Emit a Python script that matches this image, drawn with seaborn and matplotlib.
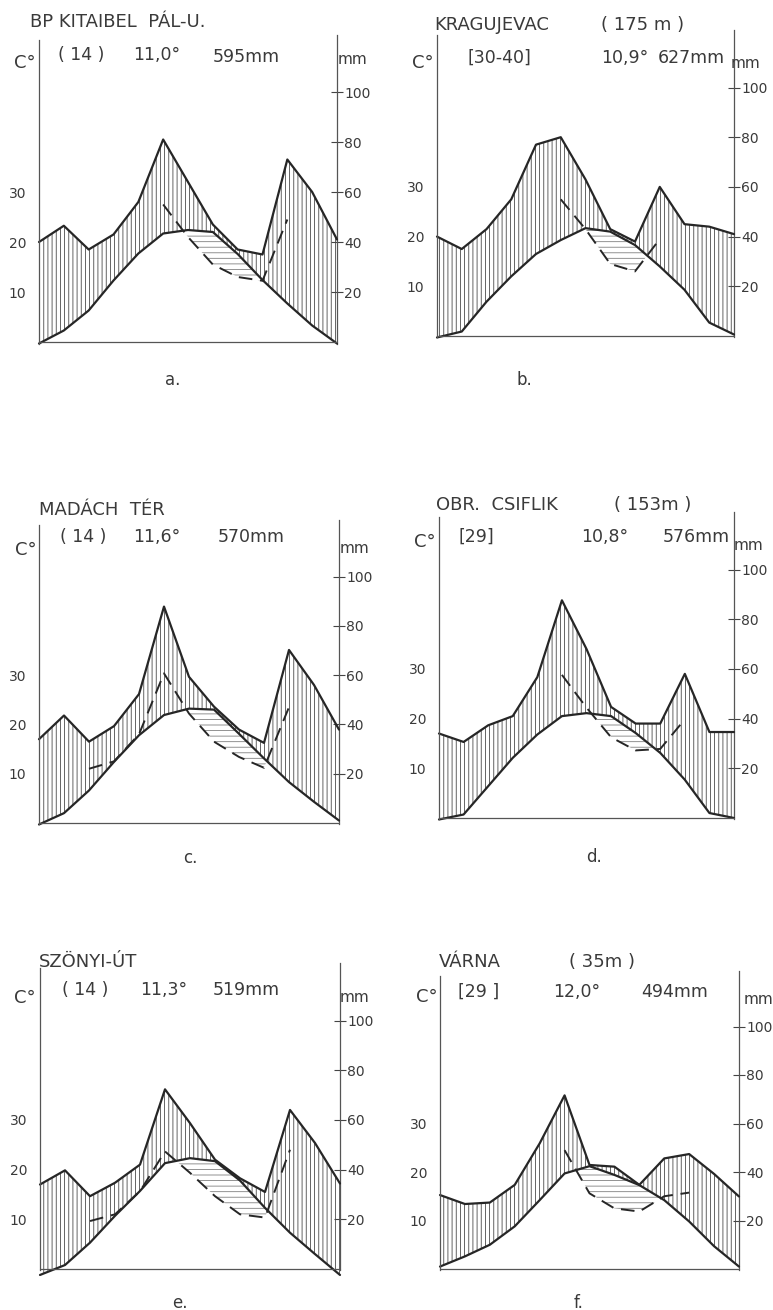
import numpy as np
import matplotlib
matplotlib.use("Agg")
import matplotlib.pyplot as plt
import seaborn as sns

# climate diagrams (Walter-Lieth style): 13 nodes, 10 C = 20 mm
MONTHS = list(range(13))

NAMES = ["BP KITAIBEL  PÁL-U.", "KRAGUJEVAC", "MADÁCH  TÉR", "OBR.  CSIFLIK", "SZÖNYI-ÚT", "VÁRNA"]
ELEV = ["", "( 175 m )", "", "( 153m )", "", "( 35m )"]
PERIOD = ["( 14 )", "[30-40]", "( 14 )", "[29]", "( 14 )", "[29 ]"]
MEAN_T = ["11,0°", "10,9°", "11,6°", "10,8°", "11,3°", "12,0°"]
ANNUAL = ["595mm", "627mm", "570mm", "576mm", "519mm", "494mm"]
LETTERS = ["a.", "b.", "c.", "d.", "e.", "f."]

# precipitation (mm)
PREC_A = [40, 46.5, 37, 43, 56, 81, 64, 47, 37, 35, 73, 60, 41]
PREC_B = [40, 35, 43, 55, 77, 80, 63, 43, 38, 60, 45, 44, 41]
PREC_C = [34, 43.6, 33, 39.3, 52.3, 87.8, 59.3, 47.2, 37.9, 32.5, 70.2, 56, 37.9]
PREC_D = [34, 30.6, 37.3, 41, 56.7, 87.6, 68, 44.7, 38, 38, 58, 34.6, 34.6]
PREC_E = [34, 39.7, 29.3, 34.7, 42, 72.3, 58.7, 44, 36.5, 31, 64, 50.7, 34.4]
PREC_F = [30.5, 26.8, 27.4, 34.7, 51.8, 71.6, 42.9, 42.2, 34.7, 45.6, 47.4, 39.2, 29.9]

# temperature (C)
TEMP_A = [-0.3, 2.3, 6.3, 12.3, 17.7, 21.7, 22.4, 22.0, 17.6, 12.4, 7.7, 3.3, -0.3]
TEMP_B = [-0.3, 0.9, 6.9, 12.0, 16.5, 19.3, 21.7, 21.0, 18.3, 14.0, 9.3, 2.7, 0.3]
TEMP_C = [-0.3, 2.0, 6.6, 12.4, 17.8, 21.9, 23.2, 23.0, 18.1, 13.1, 8.3, 4.3, 0.5]
TEMP_D = [-0.3, 0.7, 6.4, 12.1, 16.8, 20.5, 21.1, 20.5, 17.1, 13.1, 7.7, 1.0, 0.0]
TEMP_E = [-1.2, 0.8, 5.3, 10.7, 15.7, 21.3, 22.3, 21.7, 17.8, 12.3, 7.3, 3.0, -1.2]
TEMP_F = [0.5, 2.6, 5.0, 8.8, 14.2, 19.7, 21.2, 19.4, 17.3, 14.2, 9.8, 4.7, 0.5]

# dashed second precipitation curve (mm), with first month index
DASH_START = [5, 5, 2, 5, 2, 5]
DASH_A = [55, 42, 31, 26, 24.5, 49]
DASH_B = [55, 43, 29, 26, 39]
DASH_C = [22, 25, 36, 60.7, 44.4, 33, 26.8, 22.4, 47]
DASH_D = [57.6, 44.4, 32.5, 27.2, 27.8, 39.7]
DASH_E = [19.3, 22, 31.3, 47.3, 38.7, 29.3, 22, 20.7, 48]
DASH_F = [49, 31.2, 25, 23.7, 30, 31.5]

PRECS = [PREC_A, PREC_B, PREC_C, PREC_D, PREC_E, PREC_F]
TEMPS = [TEMP_A, TEMP_B, TEMP_C, TEMP_D, TEMP_E, TEMP_F]
DASHES = [DASH_A, DASH_B, DASH_C, DASH_D, DASH_E, DASH_F]

# panel placement in pixels: left spine, right spine, baseline, px per degree
LAYOUT = [(39, 337, 342, 5.0), (437, 734, 336, 4.97),
          (39, 339, 823, 4.93), (439, 734, 818, 4.97),
          (40, 340, 1269, 4.97), (440, 739, 1269, 4.85)]

# text anchors in pixels: title, elev, period, mean temp, annual, C°, mm, letter
TEXTPOS = [
    [(30, 22), None, (58, 55), (133, 55), (213, 57), (14, 63), (338, 60), (173, 380)],
    [(434, 25), (601, 25), (468, 58), (601, 58), (658, 58), (412, 63), (731, 63), (524, 380)],
    [(39, 510), None, (60, 537), (133, 537), (218, 537), (15, 550), (340, 548), (190, 858)],
    [(436, 505), (614, 505), (458, 537), (581, 537), (663, 537), (414, 542), (734, 546), (594, 857)],
    [(39, 962), None, (62, 990), (140, 990), (213, 990), (14, 998), (340, 997), (180, 1303)],
    [(439, 962), (569, 962), (458, 992), (553, 992), (641, 992), (416, 997), (744, 1000), (579, 1303)],
]

W, H = 773, 1310
INK = "#262626"
TXT = "#3a3a3a"

sns.set_style("white")
plt.rcParams["font.family"] = ["DejaVu Sans"]
plt.rcParams["hatch.linewidth"] = 0.6

fig = plt.figure(figsize=(W / 100, H / 100), dpi=100)

X0, X1, Y0, Y1 = -0.25, 12.25, -2.5, 62


def ftext(x, y, s, size, ha="left"):
    fig.text(x / W, 1 - y / H, s, fontsize=size, color=TXT, ha=ha, va="center")


for i in range(6):
    left, right, base, k = LAYOUT[i]
    step = (right - left) / 12
    ax_l = left + X0 * step
    ax_w = (X1 - X0) * step
    ax_b = base - Y0 * k
    ax_h = (Y1 - Y0) * k
    ax = fig.add_axes([ax_l / W, 1 - ax_b / H, ax_w / W, ax_h / H])
    ax.set_xlim(X0, X1)
    ax.set_ylim(Y0, Y1)
    ax.patch.set_alpha(0)

    x = np.array(MONTHS, dtype=float)
    temp = np.array(TEMPS[i])
    prec = np.array(PRECS[i]) / 2.0  # 10 C = 20 mm

    ax.fill_between(x, temp, prec, where=prec >= temp, interpolate=True,
                    facecolor="none", edgecolor="#4a4a4a", hatch="||||", linewidth=0)

    d0 = DASH_START[i]
    dx = x[d0:d0 + len(DASHES[i])]
    dv = np.array(DASHES[i]) / 2.0
    dt = temp[d0:d0 + len(DASHES[i])]
    ax.fill_between(dx, dv, dt, where=dv < dt, interpolate=True,
                    facecolor="none", edgecolor="#808080", hatch="---", linewidth=0)

    sns.lineplot(x=x, y=prec, ax=ax, color=INK, linewidth=1.6, sort=False)
    sns.lineplot(x=x, y=temp, ax=ax, color=INK, linewidth=1.6, sort=False)
    sns.lineplot(x=dx, y=dv, ax=ax, color=INK, linewidth=1.4, sort=False,
                 linestyle=(0, (7, 4)))

    ax.plot([0, 12], [0, 0], color="#555555", linewidth=0.9)

    for s in ["top", "bottom", "right"]:
        ax.spines[s].set_visible(False)
    ax.spines["left"].set_position(("data", 0))
    ax.spines["left"].set_bounds(-0.3, 60.5)
    ax.spines["left"].set_color("#555555")
    ax.spines["left"].set_linewidth(0.9)
    ax.set_xticks([])
    ax.set_yticks([10, 20, 30])
    ax.tick_params(axis="y", direction="inout", length=8, width=0.8,
                   labelsize=10, labelcolor=TXT, color="#444444", pad=5)

    sec = ax.secondary_yaxis((12 - X0) / (X1 - X0),
                             functions=(lambda c: c * 2, lambda m: m / 2))
    sec.set_yticks([20, 40, 60, 80, 100])
    sec.spines["right"].set_bounds(-0.6, 123)
    sec.spines["right"].set_color("#555555")
    sec.spines["right"].set_linewidth(0.9)
    sec.tick_params(direction="inout", length=8, width=0.8,
                    labelsize=10, labelcolor=TXT, color="#444444", pad=1)

    tp = TEXTPOS[i]
    ftext(*tp[0], NAMES[i], 13)
    if tp[1] is not None:
        ftext(*tp[1], ELEV[i], 13)
    ftext(*tp[2], PERIOD[i], 12.5)
    ftext(*tp[3], MEAN_T[i], 12.5)
    ftext(*tp[4], ANNUAL[i], 12.5)
    ftext(*tp[5], "C°", 13)
    ftext(*tp[6], "mm", 11)
    ftext(*tp[7], LETTERS[i], 12, ha="center")

fig.savefig("out.png", dpi=100, facecolor="white")
